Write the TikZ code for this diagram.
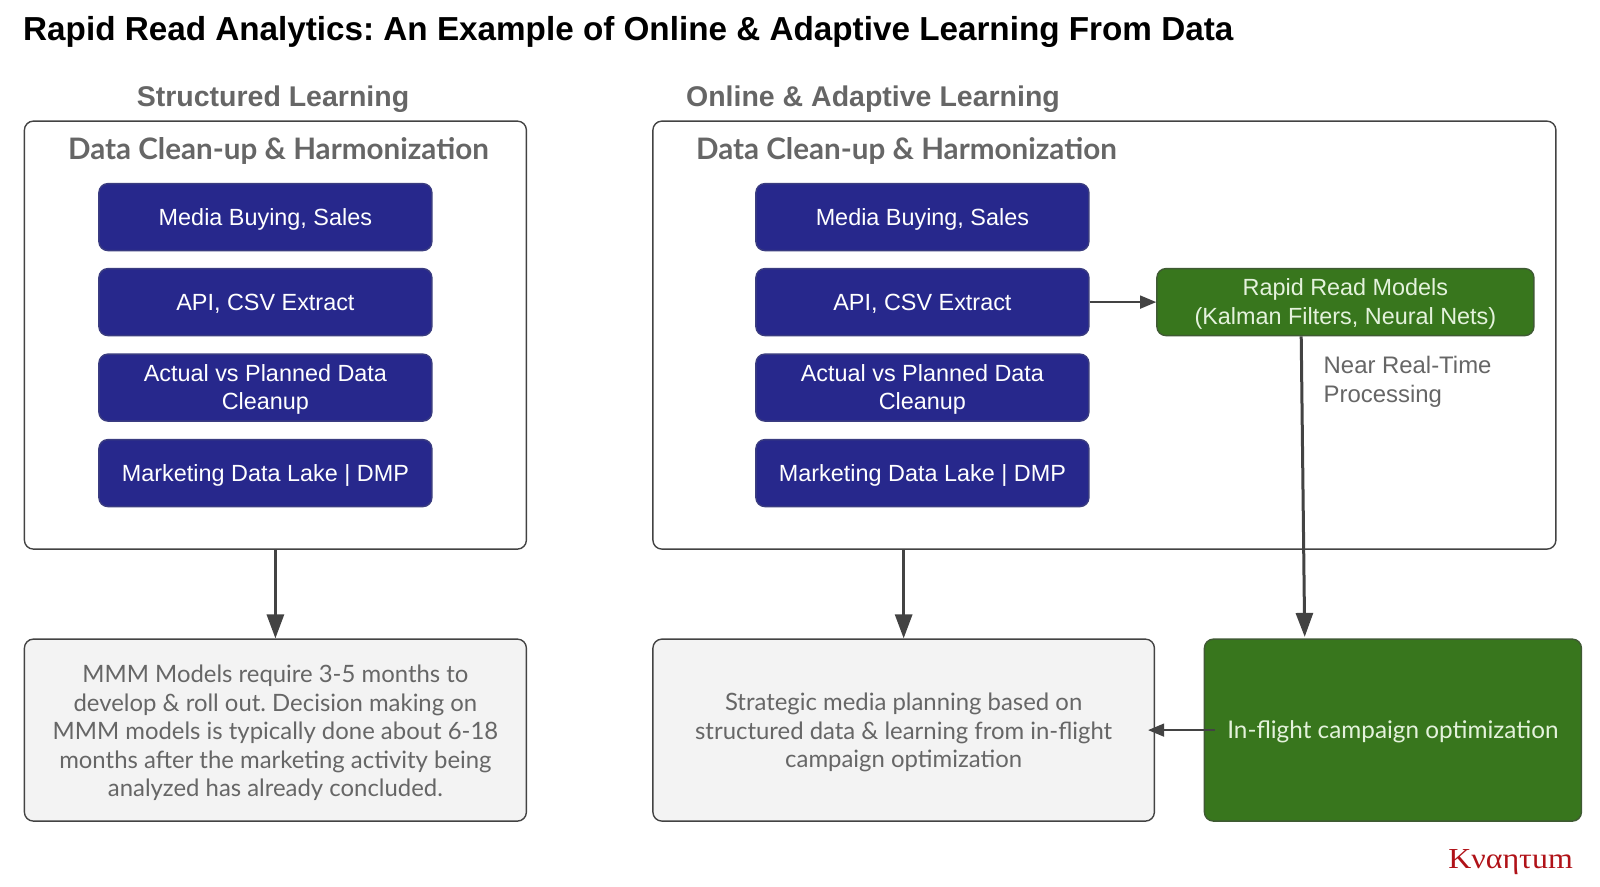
\documentclass[tikz,border=0pt]{standalone}
\usepackage{fontspec}
\setmainfont{Liberation Sans}
\newfontfamily\nun{Lato}
\newfontfamily\rob{Liberation Sans}
\newfontfamily\logofont[FakeStretch=1.1]{Liberation Serif}
\usetikzlibrary{arrows.meta,calc}
\definecolor{navy}{HTML}{27288C}
\definecolor{navyedge}{HTML}{3A3C80}
\definecolor{leaf}{HTML}{38761D}
\definecolor{leafedge}{HTML}{3F5A33}
\definecolor{pale}{HTML}{F3F3F3}
\definecolor{ink}{HTML}{434343}
\definecolor{muted}{HTML}{666666}
\definecolor{leaftext}{HTML}{E4F2DC}
\definecolor{brand}{HTML}{B01218}
% struts that fix the baseline of centred text inside the boxes
\newcommand\topstrut{\rule{0pt}{21.5pt}}
\newcommand\botstrut{\rule[-5.5pt]{0pt}{0pt}}
\newcommand\firstline[1]{\rule{0pt}{#1}}
\frenchspacing
\tikzset{
  x=1pt,y=-1pt,
  box/.style={rounded corners=9pt,draw=ink,line width=1.4pt,anchor=north west,inner sep=0pt,
    execute at begin node=\topstrut,execute at end node=\botstrut},
  frame/.style={box,fill=white},
  graybox/.style={box,fill=pale,align=center,text=muted,font=\nun\fontsize{23.9}{28.6}\selectfont},
  leafbox/.style={box,fill=leaf,draw=leafedge,align=center,text=leaftext},
  navybox/.style={box,fill=navy,draw=navyedge,text=white,align=center,minimum width=333pt,minimum height=67pt,
    font=\rob\fontsize{23.4}{28.6}\selectfont},
  heading/.style={text=muted,font=\bfseries\fontsize{28.5}{34}\selectfont,inner sep=0pt},
  subheading/.style={text=muted,font=\nun\bfseries\fontsize{29.6}{34}\selectfont,inner sep=0pt},
  link/.style={draw=ink,line width=3pt,-{Triangle[length=24pt,width=17pt]}},
  thinlink/.style={draw=ink,line width=1.5pt,-{Triangle[length=16pt,width=13pt]}},
}
\begin{document}
\begin{tikzpicture}
\useasboundingbox (0,0) rectangle (1600,886);

\node[anchor=west,inner sep=0pt,font=\bfseries\fontsize{33.25}{38}\selectfont] (title) at (23,32)
  {Rapid Read Analytics: An Example of Online \& Adaptive Learning From Data};

\node[heading] (headL) at (273,99) {Structured Learning};
\node[heading] (headR) at (873,99) {Online \& Adaptive Learning};

\begin{scope}[shift={(-0.8,-0.6)}]
% upper containers
\node[frame,minimum width=502pt,minimum height=428pt] (frameL) at (24.5,121) {};
\node[frame,minimum width=903pt,minimum height=428pt] (frameR) at (653,121) {};

% structured learning stack
\node[navybox] (l1) at (99,183.5) {Media Buying, Sales};
\node[navybox] (l2) at (99,268.5) {API, CSV Extract};
\node[navybox] (l3) at (99,354) {\firstline{21.5pt}Actual vs Planned Data\\Cleanup};
\node[navybox] (l4) at (99,439.5) {Marketing Data Lake | DMP};

% adaptive learning stack
\node[navybox] (r1) at (756,183.5) {Media Buying, Sales};
\node[navybox] (r2) at (756,268.5) {API, CSV Extract};
\node[navybox] (r3) at (756,354) {\firstline{21.5pt}Actual vs Planned Data\\Cleanup};
\node[navybox] (r4) at (756,439.5) {Marketing Data Lake | DMP};

\node[leafbox,minimum width=377pt,minimum height=67pt,font=\rob\fontsize{23.4}{28.6}\selectfont] (rapid) at (1157,268.5)
  {\firstline{21.5pt}Rapid Read Models\\(Kalman Filters, Neural Nets)};

% lower row
\node[graybox,minimum width=502pt,minimum height=182pt] (mmm) at (24.5,639)
  {\firstline{24.5pt}MMM Models require 3-5 months to\\develop \& roll out. Decision making on\\MMM models is typically done about 6-18\\months after the marketing activity being\\analyzed has already concluded.};
\node[graybox,minimum width=501.5pt,minimum height=182pt] (plan) at (653,639)
  {\firstline{23.5pt}Strategic media planning based on\\structured data \& learning from in-flight\\campaign optimization};
\node[leafbox,minimum width=377pt,minimum height=182pt,font=\nun\fontsize{24.3}{28.6}\selectfont] (flight) at (1204.5,639)
  {In-flight campaign optimization};
\end{scope}

\node[subheading] (subL) at (278.5,151) {Data Clean-up \& Harmonization};
\node[subheading] (subR) at (906.5,151) {Data Clean-up \& Harmonization};
\node[anchor=north west,inner sep=0pt,align=left,text=muted,font=\rob\fontsize{23.9}{28.6}\selectfont] (near) at (1323.5,356)
  {Near Real-Time\\Processing};

\node[anchor=base east,inner sep=0pt,text=brand,font=\logofont\fontsize{29}{34}\selectfont] (logo) at (1573,868) {Κναητum};

% connectors
\coordinate (rapidout) at ($(rapid.south west)+(145,0)$);
\coordinate (rapidin)  at ($(flight.north west)+(101,-1.5)$);
\coordinate (flightout) at ($(flight.west)+(11,0)$);
\coordinate (planin) at ($(plan.east)+(-7,0)$);
\draw[link] (frameL.south) -- (mmm.north);
\draw[link] (plan.north |- frameR.south) -- (plan.north);
\draw[link] (rapidout) -- (rapidin);
\draw[thinlink] (r2.east) -- (rapid.west);
\draw[thinlink] (flightout) -- (planin);
\end{tikzpicture}
\end{document}
